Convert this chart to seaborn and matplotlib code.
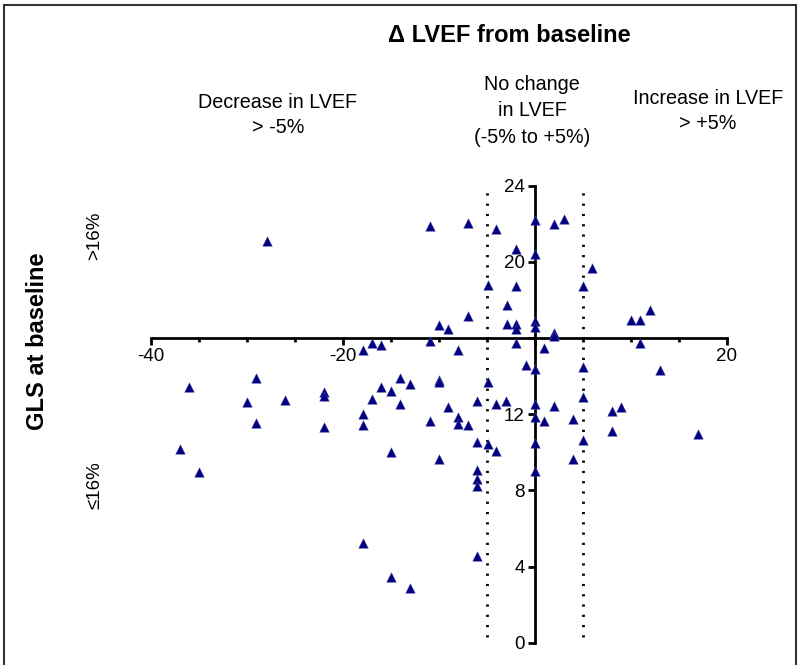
import matplotlib
matplotlib.use("Agg")
import matplotlib.pyplot as plt
import matplotlib.patches as mpatches
import pandas as pd
import seaborn as sns

# change in LVEF from baseline (%)
delta_lvef = [
    -27.9, -10.9, -7.0, -4.0, 0.0, 0.0, -1.9, -4.9, -1.9, -2.9,
    -7.0, -2.9, -1.9, -1.9, 0.0, 0.0, -10.0, -9.0, -10.9, -1.9,
    -8.0, 1.0, -0.9, -17.9, -16.9, -16.0, 2.0, 3.0, 6.0, 5.0,
    10.0, 11.0, 12.0, 2.0, 2.0, 11.0, 5.0, 13.0, -36.0, -29.0,
    -30.0, -26.0, -22.0, -22.0, -29.0, -22.0, -37.0, -35.0, 0.0, -4.9,
    -10.0, -10.0, -14.0, -13.0, -16.0, -15.0, -16.9, -14.0, -17.9, -17.9,
    -10.9, -9.0, -8.0, -8.0, -7.0, -6.0, -4.0, -3.0, 0.0, 0.0,
    1.0, -6.0, -4.9, -4.0, 0.0, 0.0, -15.0, -10.0, -6.0, -6.0,
    -6.0, -17.9, -6.0, -15.0, -13.0, 5.0, 2.0, 8.0, 9.0, 4.0,
    5.0, 8.0, 17.0, 4.0,
]
# GLS at baseline (%)
gls = [
    21.1, 21.85, 22.05, 21.7, 22.2, 20.4, 20.65, 18.8, 18.75, 17.75,
    17.15, 16.75, 16.75, 16.45, 16.9, 16.6, 16.7, 16.45, 15.85, 15.75,
    15.35, 15.45, 14.6, 15.35, 15.75, 15.65, 22.0, 22.25, 19.65, 18.75,
    16.95, 16.95, 17.45, 16.25, 16.1, 15.75, 14.45, 14.3, 13.45, 13.9,
    12.65, 12.75, 13.15, 12.95, 11.55, 11.35, 10.15, 8.95, 14.35, 13.7,
    13.8, 13.7, 13.9, 13.6, 13.4, 13.2, 12.8, 12.55, 12.0, 11.45,
    11.65, 12.35, 11.85, 11.5, 11.45, 12.7, 12.55, 12.7, 12.55, 11.85,
    11.65, 10.55, 10.45, 10.05, 10.5, 9.0, 10.0, 9.65, 9.05, 8.6,
    8.25, 5.25, 4.55, 3.45, 2.85, 12.9, 12.45, 12.15, 12.35, 11.75,
    10.65, 11.1, 10.95, 9.65,
]

x_ticks = [-40, -20, 0, 20]
x_tick_labels = ["-40", "-20", "", "20"]
y_ticks = [0, 4, 8, 12, 16, 20, 24]
y_tick_labels = ["0", "4", "8", "12", "", "20", "24"]
cutoffs = [-5, 5]

df = pd.DataFrame({"dlvef": delta_lvef, "gls": gls})

sns.set_style("white", {"text.color": "black", "xtick.color": "black",
                        "ytick.color": "black", "axes.labelcolor": "black"})
plt.rcParams["font.family"] = ["Liberation Sans", "DejaVu Sans"]

fig = plt.figure(figsize=(8.03, 6.65), dpi=100)
ax = fig.add_axes([0.1877, 0.0335, 0.7173, 0.6875])

# dotted lines marking the "no change" band
ax.vlines(cutoffs, 0.3, 24, colors="black", linestyles=(0, (0.8, 2.9)),
          linewidth=2)

sns.scatterplot(data=df, x="dlvef", y="gls", marker="^", color="#000080",
                s=48, linewidth=0.3, edgecolor="#5555aa", ax=ax, zorder=3)

ax.set_xlim(-40, 20)
ax.set_ylim(0, 24)

# axes crossing at (0, 16)
for side in ["top", "right"]:
    ax.spines[side].set_visible(False)
ax.spines["left"].set_position(("data", 0))
ax.spines["bottom"].set_position(("data", 16))
ax.spines["left"].set_bounds(0, 24)
ax.spines["bottom"].set_bounds(-40, 20)
for side in ["left", "bottom"]:
    ax.spines[side].set_linewidth(2)
    ax.spines[side].set_color("black")
    ax.spines[side].set_zorder(2)

ax.set_xticks(x_ticks)
ax.set_xticklabels(x_tick_labels)
ax.set_xticks([-35, -30, -25, -15, -10, -5, 5, 10, 15], minor=True)
ax.set_yticks(y_ticks)
ax.set_yticklabels(y_tick_labels)
ax.tick_params(axis="both", which="major", direction="out", length=5,
               width=2, labelsize=13.5, color="black", labelcolor="black",
               pad=2, bottom=True, left=True)
ax.tick_params(axis="x", which="minor", direction="out", length=3, width=2,
               color="black", bottom=True)
ax.set_xlabel("")
ax.set_ylabel("")

# labels and annotations
fig.text(509 / 803, 1 - 35 / 665, "\u0394 LVEF from baseline", ha="center",
         va="center", fontsize=17, fontweight="bold")
fig.text(278 / 803, 1 - 115 / 665, "Decrease in LVEF\n> -5%", ha="center",
         va="center", fontsize=14.2, linespacing=1.45)
fig.text(532 / 803, 1 - 111 / 665, "No change\nin LVEF\n(-5% to +5%)",
         ha="center", va="center", fontsize=14.2, linespacing=1.5)
fig.text(708 / 803, 1 - 111 / 665, "Increase in LVEF\n> +5%", ha="center",
         va="center", fontsize=14.2, linespacing=1.45)
fig.text(38 / 803, 1 - 341 / 665, "GLS at baseline", ha="center",
         va="center", rotation=90, fontsize=17, fontweight="bold")
fig.text(95 / 803, 1 - 236 / 665, ">16%", ha="center", va="center",
         rotation=90, fontsize=13.5)
fig.text(95 / 803, 1 - 485 / 665, "\u226416%", ha="center", va="center",
         rotation=90, fontsize=13.5)

# frame around the figure
fig.patches.append(mpatches.Rectangle((4.5 / 803, -0.1), 792 / 803,
                                      1.1 - 5 / 665, fill=False,
                                      edgecolor="#333333", linewidth=1.5,
                                      transform=fig.transFigure, figure=fig))

fig.savefig("out.png", dpi=100)
